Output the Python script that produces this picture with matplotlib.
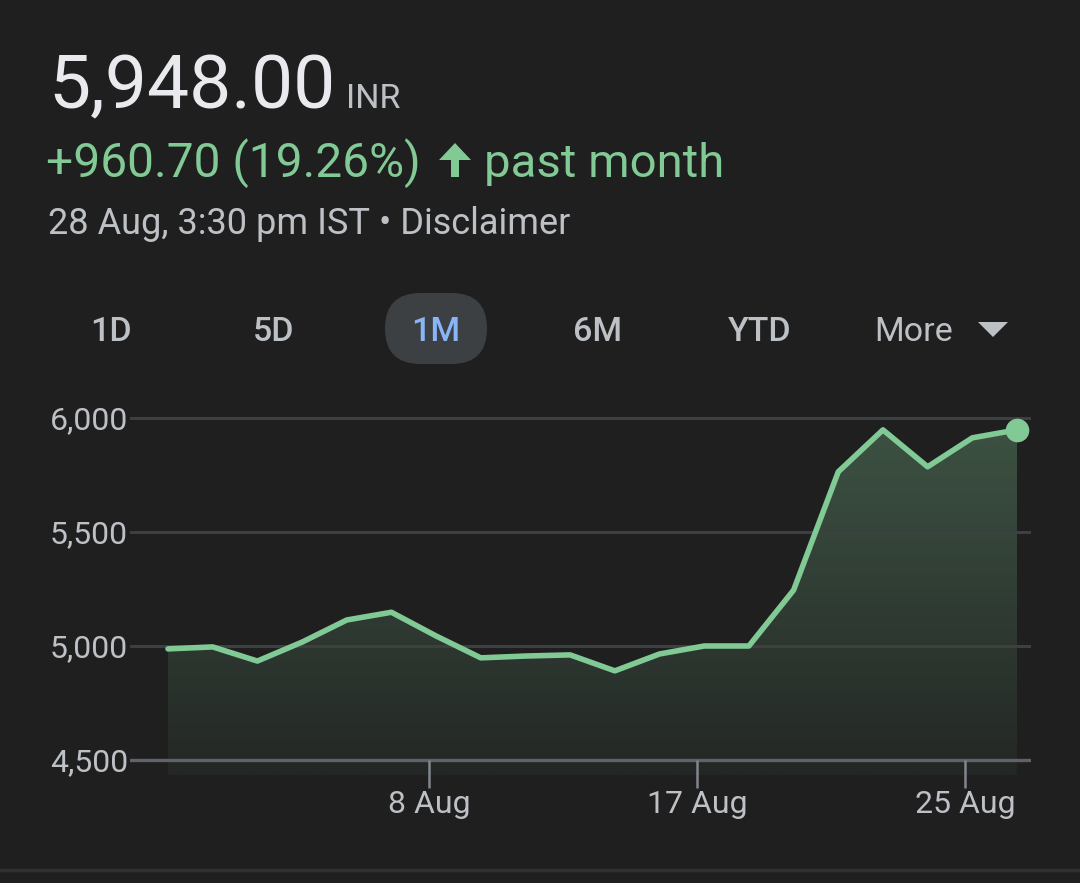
import numpy as np
import matplotlib
matplotlib.use("Agg")
import matplotlib.pyplot as plt
from matplotlib.patches import FancyBboxPatch, Polygon
from matplotlib.lines import Line2D

# closing prices (one point per trading day)
prices = [4987.3, 4996, 4934, 5017, 5114, 5148, 5044, 4948, 4956, 4961,
          4891, 4965, 5000, 5000, 5245, 5764, 5948, 5786, 5913, 5948]
ytick_vals = [4500, 5000, 5500, 6000]
xtick_pos = [5.84, 11.84, 17.84]
xtick_labels = ["8 Aug", "17 Aug", "25 Aug"]
tabs = ["1D", "5D", "1M", "6M", "YTD", "More"]
selected_tab = "1M"

price_text = "5,948.00"
currency = "INR"
change_text = "+960.70 (19.26%)"
period_text = "past month"
stamp_text = "28 Aug, 3:30 pm IST \u2022 Disclaimer"

W, H = 1080, 883
BG = "#1f1f1f"
GREEN = "#81c995"
GREY = "#bdc1c6"
plt.rcParams["font.family"] = ["Roboto", "DejaVu Sans"]

fig = plt.figure(figsize=(W / 100, H / 100), dpi=100, facecolor=BG)

def fx(px):
    return px / W

def fy(py):
    return 1 - py / H

# header
fig.text(fx(48), fy(108), price_text, color="#e8eaed", fontsize=54, va="baseline")
fig.text(fx(346), fy(108), currency, color=GREY, fontsize=24.5, va="baseline")
fig.text(fx(46), fy(177), change_text, color=GREEN, fontsize=34.5, va="baseline")
fig.text(fx(484), fy(177), period_text, color=GREEN, fontsize=34, va="baseline")
# up arrow icon
ax_c, ax_top, ax_bot = 455, 143, 177
arrow = Polygon([(fx(ax_c), fy(ax_top)), (fx(ax_c + 16), fy(ax_top + 17)),
                 (fx(ax_c + 4), fy(ax_top + 17)), (fx(ax_c + 4), fy(ax_bot)),
                 (fx(ax_c - 4), fy(ax_bot)), (fx(ax_c - 4), fy(ax_top + 17)),
                 (fx(ax_c - 16), fy(ax_top + 17))],
                closed=True, transform=fig.transFigure, facecolor=GREEN, edgecolor="none")
fig.add_artist(arrow)
fig.text(fx(48), fy(234), stamp_text, color=GREY, fontsize=26, va="baseline")

# range tabs
tab_x = [111, 274, 436, 598, 760, 914]
pill = FancyBboxPatch((fx(385), fy(364)), fx(102), 71 / H,
                      boxstyle="round,pad=0,rounding_size=%f" % (35.5 / W),
                      transform=fig.transFigure, facecolor="#3c4043", edgecolor="none",
                      mutation_aspect=W / H)
fig.add_artist(pill)
for name, cx in zip(tabs, tab_x):
    col = "#8ab4f8" if name == selected_tab else GREY
    wt = "normal" if name == "More" else "medium"
    fig.text(fx(cx), fy(341), name, color=col, fontsize=24.5, ha="center",
             va="baseline", fontweight=wt)
tri = Polygon([(fx(978), fy(322)), (fx(1008), fy(322)), (fx(993), fy(337))],
              closed=True, transform=fig.transFigure, facecolor=GREY, edgecolor="none")
fig.add_artist(tri)

# chart area (pixel layout of the plot)
px_left, px_right = 130, 1031
px_top, px_bottom = 404, 775
y6000, y4500 = 418, 760
x_first, x_last = 168, 1017
ppu = (y4500 - y6000) / 1500.0
step = (x_last - x_first) / (len(prices) - 1)
ylo = 4500 - (px_bottom - y4500) / ppu
yhi = 6000 + (y6000 - px_top) / ppu

ax = fig.add_axes([fx(px_left), fy(px_bottom), (px_right - px_left) / W,
                   (px_bottom - px_top) / H])
ax.set_facecolor("none")
ax.set_xlim((px_left - x_first) / step, (px_right - x_first) / step)
ax.set_ylim(ylo, yhi)
for s in ax.spines.values():
    s.set_visible(False)

x = np.arange(len(prices))
for v in ytick_vals[1:]:
    ax.axhline(v, color="#3c4043", lw=2.2, zorder=1)
ax.axhline(ytick_vals[0], color="#5f6368", lw=2.4, zorder=1)

# gradient fill under the line
fill = ax.fill_between(x, prices, ylo, color="none", lw=0)
grad = np.zeros((256, 1, 4))
grad[:, 0, :3] = matplotlib.colors.to_rgb(GREEN)
grad[:, 0, 3] = np.linspace(0.30, 0.05, 256)
img = ax.imshow(grad, aspect="auto", extent=(0, len(prices) - 1, ylo, max(prices)),
                origin="upper", zorder=0.5)
img.set_clip_path(fill.get_paths()[0], transform=ax.transData)

ax.plot(x, prices, color=GREEN, lw=4, solid_joinstyle="round",
        solid_capstyle="round", zorder=3)
ax.plot(x[-1], prices[-1], "o", ms=16, color=GREEN, zorder=4)

# axis ticks
ax.set_yticks(ytick_vals)
ax.set_yticklabels(["{:,}".format(v) for v in ytick_vals])
ax.tick_params(axis="y", length=0, pad=1.5, labelsize=23, labelcolor=GREY)
ax.set_xticks(xtick_pos)
ax.set_xticklabels(xtick_labels)
ax.tick_params(axis="x", length=0, pad=11, labelsize=23, labelcolor=GREY)
tick_end = 4500 - (788 - y4500) / ppu
ax.vlines(xtick_pos, tick_end, 4500, color="#80868b", lw=1.8, clip_on=False, zorder=2)

# bottom separator
fig.add_artist(Line2D([0, 1], [fy(870), fy(870)], transform=fig.transFigure,
                      color="#303134", lw=2.5))

fig.savefig("out.png", dpi=100, facecolor=BG)
